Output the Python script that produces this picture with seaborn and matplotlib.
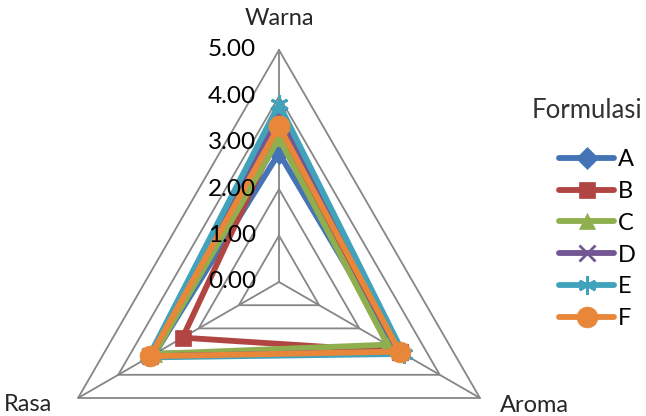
import numpy as np
import pandas as pd
import matplotlib
matplotlib.use("Agg")
import matplotlib.pyplot as plt
import seaborn as sns

# ---- data ----
axes_labels = ["Warna", "Aroma", "Rasa"]
formulasi = ["A", "B", "C", "D", "E", "F"]
warna = [2.78, 3.25, 3.10, 3.60, 3.83, 3.36]
aroma = [2.90, 3.00, 2.70, 3.00, 3.10, 3.00]
rasa = [3.10, 2.40, 3.10, 3.20, 3.25, 3.20]
tick_values = [0, 1, 2, 3, 4, 5]
tick_labels = ["0.00", "1.00", "2.00", "3.00", "4.00", "5.00"]

colors = ["#4474B6", "#B14542", "#8FAF4F", "#735794", "#40A2BB", "#E8873A"]
markers = ["D", "s", "^", "x", (6, 2, 0), "o"]
msizes = [11, 11, 12, 11, 13, 15]

sns.set_style("white")
plt.rcParams["font.family"] = ["Lato", "DejaVu Sans"]
FS = 17

angles = [np.pi / 2, -np.pi / 6, 7 * np.pi / 6]

rows = []
for i, f in enumerate(formulasi):
    vals = [warna[i], aroma[i], rasa[i]]
    for j in range(4):
        k = j % 3
        rows.append({"theta": angles[k] + (2 * np.pi if j == 3 else 0),
                     "r": vals[k], "Formulasi": f})
df = pd.DataFrame(rows)

W, H = 646, 416
fig = plt.figure(figsize=(W / 100, H / 100), dpi=100)
cx, cy, R = 279, 282, 232
ax = fig.add_axes([(cx - R) / W, (H - cy - R) / H, 2 * R / W, 2 * R / H],
                  projection="polar")
ax.set_ylim(0, 5)
ax.grid(False)
ax.spines["polar"].set_visible(False)
ax.set_xticks([])
ax.set_yticks([])
ax.patch.set_alpha(0)

grid_c = "#868686"
for v in tick_values[1:]:
    ax.plot(angles + [angles[0]], [v] * 4, color=grid_c, lw=1.3, zorder=1,
            clip_on=False)
for a in angles:
    ax.plot([a, a], [0, 5], color=grid_c, lw=1.3, zorder=1, clip_on=False)
n_grid = len(ax.lines)

sns.lineplot(data=df, x="theta", y="r", hue="Formulasi",
             hue_order=formulasi, palette=colors,
             sort=False, estimator=None, lw=4.2,
             ax=ax, legend=True, zorder=3)
ax.set_xlabel("")
ax.set_ylabel("")

def style_marker(ln, c, ms, mk):
    ln.set_marker(mk)
    ln.set_markersize(ms)
    ln.set_markerfacecolor(c)
    ln.set_markeredgecolor(c)
    ln.set_markeredgewidth(2 if mk in ("x", (6, 2, 0)) else 0.5)

series_lines = ax.lines[n_grid:n_grid + 6]
for ln, c, ms, mk in zip(series_lines, colors, msizes, markers):
    style_marker(ln, c, ms, mk)
    ln.set_clip_on(False)
    ln.set_solid_joinstyle("round")

ax.set_ylim(0, 5)

# radial tick labels
for v, t in zip(tick_values, tick_labels):
    ax.annotate(t, xy=(np.pi / 2, v), xytext=(-23, 0), textcoords="offset pixels",
                ha="right", va="center", fontsize=FS + 0.5, color="black",
                annotation_clip=False)

# category labels
ax.text(np.pi / 2, 5.67, axes_labels[0], ha="center", va="center", fontsize=FS)
ax.text(np.deg2rad(-25.7), 6.12, axes_labels[1], ha="center", va="center", fontsize=FS)
ax.text(np.deg2rad(206.1), 6.02, axes_labels[2], ha="center", va="center", fontsize=FS)

# legend
handles, labels = ax.get_legend_handles_labels()
ax.get_legend().remove()
for h, c, ms, mk in zip(handles, colors, msizes, markers):
    style_marker(h, c, ms, mk)
    h.set_linewidth(4.2)
    h.set_solid_capstyle("round")
leg = fig.legend(handles, labels, loc="upper left",
                 bbox_to_anchor=(559 / W, (H - 149) / H), frameon=False,
                 fontsize=FS, handlelength=2.35,
                 handletextpad=0.15, labelspacing=0.46, borderpad=0,
                 borderaxespad=0)
for t in leg.get_texts():
    t.set_color("black")
fig.text(587 / W, (H - 111) / H, "Formulasi", ha="center", va="center",
         fontsize=18.5, color="#333333")

fig.savefig("out.png", dpi=100)
